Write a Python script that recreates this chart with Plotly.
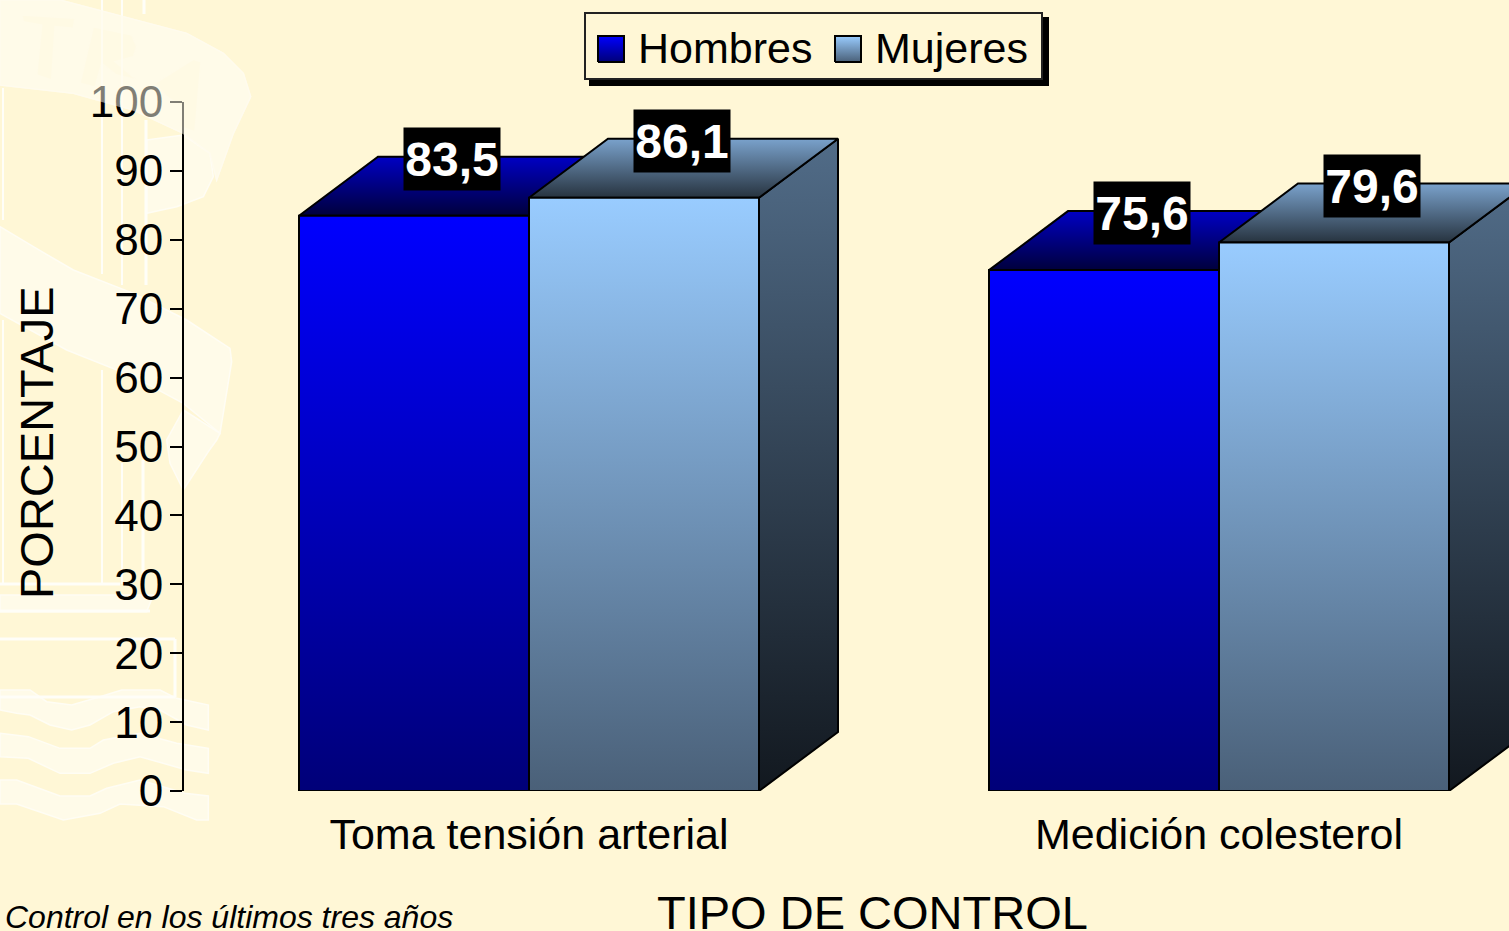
"""
Control de tension y colesterol: barras 3D con degradado, hombres y mujeres.
"""

import plotly.graph_objects as go

categories = ["Toma tensión arterial", "Medición colesterol"]
hombres = [83.5, 75.6]
mujeres = [86.1, 79.6]
y_ticks = [0, 10, 20, 30, 40, 50, 60, 70, 80, 90, 100]

W, H = 1509, 931
BG = "#FFF7D6"
LIGHT = "#FFFBE9"
FONT = "Liberation Sans"

# plot frame in pixels
LEFT, Y0, Y100, CAT_W = 184, 791, 102, 690
BAR_W = 1 / 3
DEPTH_X = 79 / CAT_W
DEPTH_Y = 59 / ((Y0 - Y100) / 100)

STYLES = {
    "Hombres": dict(front=("#0000FF", "#000078"), top=("#0000C4", "#00003C"), side=("#0000A0", "#000030")),
    "Mujeres": dict(front=("#99CCFF", "#4A6078"), top=("#7AA2CC", "#27333F"), side=("#516C88", "#12181F")),
}


def face(xs, ys, colors, name, start, stop, xaxis="x", yaxis="y"):
    return go.Scatter(
        x=xs + xs[:1], y=ys + ys[:1], mode="lines", fill="toself", name=name,
        line=dict(color="black", width=2), showlegend=False, xaxis=xaxis, yaxis=yaxis,
        fillgradient=dict(type="vertical", start=start, stop=stop,
                          colorscale=[[0, colors[1]], [1, colors[0]]]),
        hoverinfo="skip",
    )


def bar_faces(center, value, style, name):
    x0, x1 = center - BAR_W / 2, center + BAR_W / 2
    top = value + DEPTH_Y
    return [
        face([x1, x1 + DEPTH_X, x1 + DEPTH_X, x1], [0, DEPTH_Y, top, value], style["side"], name, 0, top),
        face([x0, x0 + DEPTH_X, x1 + DEPTH_X, x1], [value, top, top, value], style["top"], name, value, top),
        face([x0, x1, x1, x0], [0, 0, value, value], style["front"], name, 0, value),
    ]


def zoom_path(points, ox=0, oy=0):
    pts = [((x / 3 + ox) / W, 1 - (y / 3 + oy) / H) for x, y in points]
    return "M" + " L".join(f"{x:.5f},{y:.5f}" for x, y in pts) + " Z"


def shape(points, oy=0, fill=LIGHT, line="#FFFDF4", layer="below", opacity=1):
    return dict(type="path", xref="paper", yref="paper", path=zoom_path(points, 0, oy), layer=layer,
                fillcolor=fill, opacity=opacity, line=dict(color=line, width=1.5))


def stroke(x0, y0, x1, y1, width=2):
    return dict(type="line", xref="paper", yref="paper", layer="below",
                x0=x0 / W, x1=x1 / W, y0=1 - y0 / H, y1=1 - y1 / H,
                line=dict(color="#FFFEF8", width=width))


def box(x0, y0, x1, y1, fill, line_color="black"):
    return dict(type="rect", xref="paper", yref="paper", layer="below",
                x0=x0 / W, x1=x1 / W, y0=1 - y1 / H, y1=1 - y0 / H,
                fillcolor=fill, line=dict(color=line_color, width=2))


band_top = [(0, 0), (180, 0), (560, 100), (670, 160), (730, 220), (752, 290), (700, 400), (650, 540),
            (630, 460), (550, 400), (400, 330), (220, 280), (0, 255)]
blob_top = [(440, 420), (550, 405), (630, 460), (640, 530), (610, 590), (530, 620), (440, 640)]
band_mid = [(0, 680), (100, 740), (220, 810), (400, 880), (560, 960), (690, 1045), (695, 1085), (660, 1300),
            (550, 1210), (400, 1130), (200, 1050), (0, 940)]
blob_mid = [(550, 1230), (660, 1300), (650, 1320), (625, 1355), (550, 1470), (510, 1390), (500, 1320)]
letter_t = [(65, 45), (225, 55), (220, 85), (165, 80), (155, 240), (110, 225), (125, 75), (70, 65)]
letter_r = [(280, 80), (395, 105), (410, 140), (400, 170), (345, 185), (410, 240), (350, 225), (305, 190),
            (285, 262), (240, 250)]
letter_a = [(580, 178), (603, 185), (585, 395), (540, 380), (548, 320), (500, 290), (465, 250)]
wave_1 = [(0, 750), (90, 750), (140, 785), (215, 795), (300, 770), (365, 750), (480, 750), (530, 775),
          (625, 795), (625, 870), (560, 855), (480, 810), (420, 800), (340, 815), (270, 855), (215, 870),
          (150, 855), (90, 825), (50, 820), (0, 810)]
wave_2 = [(0, 880), (85, 890), (180, 925), (270, 925), (310, 900), (420, 880), (530, 910), (625, 925),
          (625, 1000), (560, 990), (420, 950), (340, 970), (270, 1000), (180, 1000), (85, 955), (0, 950)]
wave_3 = [(0, 1020), (50, 1020), (180, 1068), (270, 1068), (320, 1045), (420, 1020), (555, 1060), (625, 1068),
          (625, 1140), (590, 1140), (490, 1100), (360, 1092), (300, 1120), (190, 1140), (50, 1092), (0, 1092)]
ledge = [(0, 465), (460, 465), (440, 515), (0, 515)]

shapes = [
    shape(band_top), shape(blob_top), shape(band_mid), shape(blob_mid, fill=LIGHT),
    shape(letter_t, fill="#FFF9E0", line="#FFFBE9"), shape(letter_r, fill="#FFF9E0", line="#FFFBE9"),
    shape(letter_a, fill="#FFF9E0", line="#FFFBE9"),
    shape(ledge, oy=440), shape(wave_1, oy=440), shape(wave_2, oy=440), shape(wave_3, oy=440),
    stroke(3, 88, 3, 220), stroke(3, 320, 3, 584), stroke(102, 0, 102, 274), stroke(102, 370, 102, 584),
    stroke(122, 0, 122, 285), stroke(122, 463, 122, 584), stroke(144, 0, 144, 14, 3), stroke(146, 120, 146, 285, 3),
    stroke(143, 460, 143, 575, 3), stroke(0, 584, 120, 584, 3), stroke(0, 611, 150, 611, 3),
    stroke(0, 639, 175, 639, 3), stroke(175, 639, 175, 697, 3), stroke(0, 697, 175, 697, 3),
    # legend frame and its drop shadow
    box(590, 18, 1048, 85, "black"),
    box(585, 13, 1042, 79, BG, "#222222"),
    # the band washes out the top of the "100" label
    shape(band_top, fill=LIGHT, line=LIGHT, layer="above", opacity=0.5),
]

fig = go.Figure()
for i in range(len(categories)):
    fig.add_traces(bar_faces(i - BAR_W / 2, hombres[i], STYLES["Hombres"], "Hombres"))
for i in range(len(categories)):
    fig.add_traces(bar_faces(i + BAR_W / 2, mujeres[i], STYLES["Mujeres"], "Mujeres"))

# legend swatches sit on a pixel-scaled overlay axis pair
for name, x0 in (("Hombres", 598), ("Mujeres", 835)):
    fig.add_trace(face([x0, x0 + 26, x0 + 26, x0], [62, 62, 36, 36], STYLES[name]["front"], name, 62, 36,
                       xaxis="x2", yaxis="y2"))


def text(label, x, y, size, xanchor="center", angle=0, italic=False):
    return dict(text=label, x=x / W, y=1 - y / H, xref="paper", yref="paper", showarrow=False,
                xanchor=xanchor, yanchor="middle", textangle=angle,
                font=dict(family=FONT, size=size, color="black", style="italic" if italic else "normal"))


def value_label(i, offset, value):
    return dict(text=f"<b>{value:.1f}</b>".replace(".", ","), x=i + offset, y=value, xref="x", yref="y",
                xshift=38, yshift=57, showarrow=False, bgcolor="black", borderpad=0, width=96, height=62,
                xanchor="center", yanchor="middle", font=dict(family=FONT, size=48, color="white"))


annotations = [
    text("Hombres", 636, 48, 43, xanchor="left"),
    text("Mujeres", 873, 48, 43, xanchor="left"),
    text("PORCENTAJE", 36, 443, 47, angle=-90),
    text("TIPO DE CONTROL", 872, 912, 47),
    text("Control en los últimos tres años", 3, 917, 32, xanchor="left", italic=True),
]
for i in range(len(categories)):
    annotations.append(value_label(i, -BAR_W / 2, hombres[i]))
    annotations.append(value_label(i, BAR_W / 2, mujeres[i]))

fig.update_layout(
    width=W, height=H, margin=dict(l=0, r=0, t=0, b=0, autoexpand=False), autosize=False,
    paper_bgcolor=BG, plot_bgcolor="rgba(0,0,0,0)", showlegend=False,
    font=dict(family=FONT, color="black"),
    shapes=shapes, annotations=annotations,
    xaxis=dict(domain=[LEFT / W, 1], range=[-0.5, (W - LEFT) / CAT_W - 0.5], tickvals=list(range(len(categories))),
               ticktext=categories, ticks="", showgrid=False, zeroline=False, showline=False,
               tickfont=dict(size=43), ticklabelstandoff=14),
    yaxis=dict(domain=[1 - Y0 / H, 1 - Y100 / H], range=[0, 100], tickvals=y_ticks, ticks="outside", ticklen=12,
               tickwidth=2, tickcolor="black", showline=True, linecolor="black", linewidth=2, showgrid=False,
               zeroline=False, tickfont=dict(size=44), ticklabelstandoff=-2),
    xaxis2=dict(domain=[0, 1], range=[0, W], visible=False, anchor="y2"),
    yaxis2=dict(domain=[0, 1], range=[H, 0], visible=False, anchor="x2"),
)

fig.write_html("out.html", config=dict(displayModeBar=False),
               post_script="document.body.style.margin='0';document.body.style.overflow='hidden';")
